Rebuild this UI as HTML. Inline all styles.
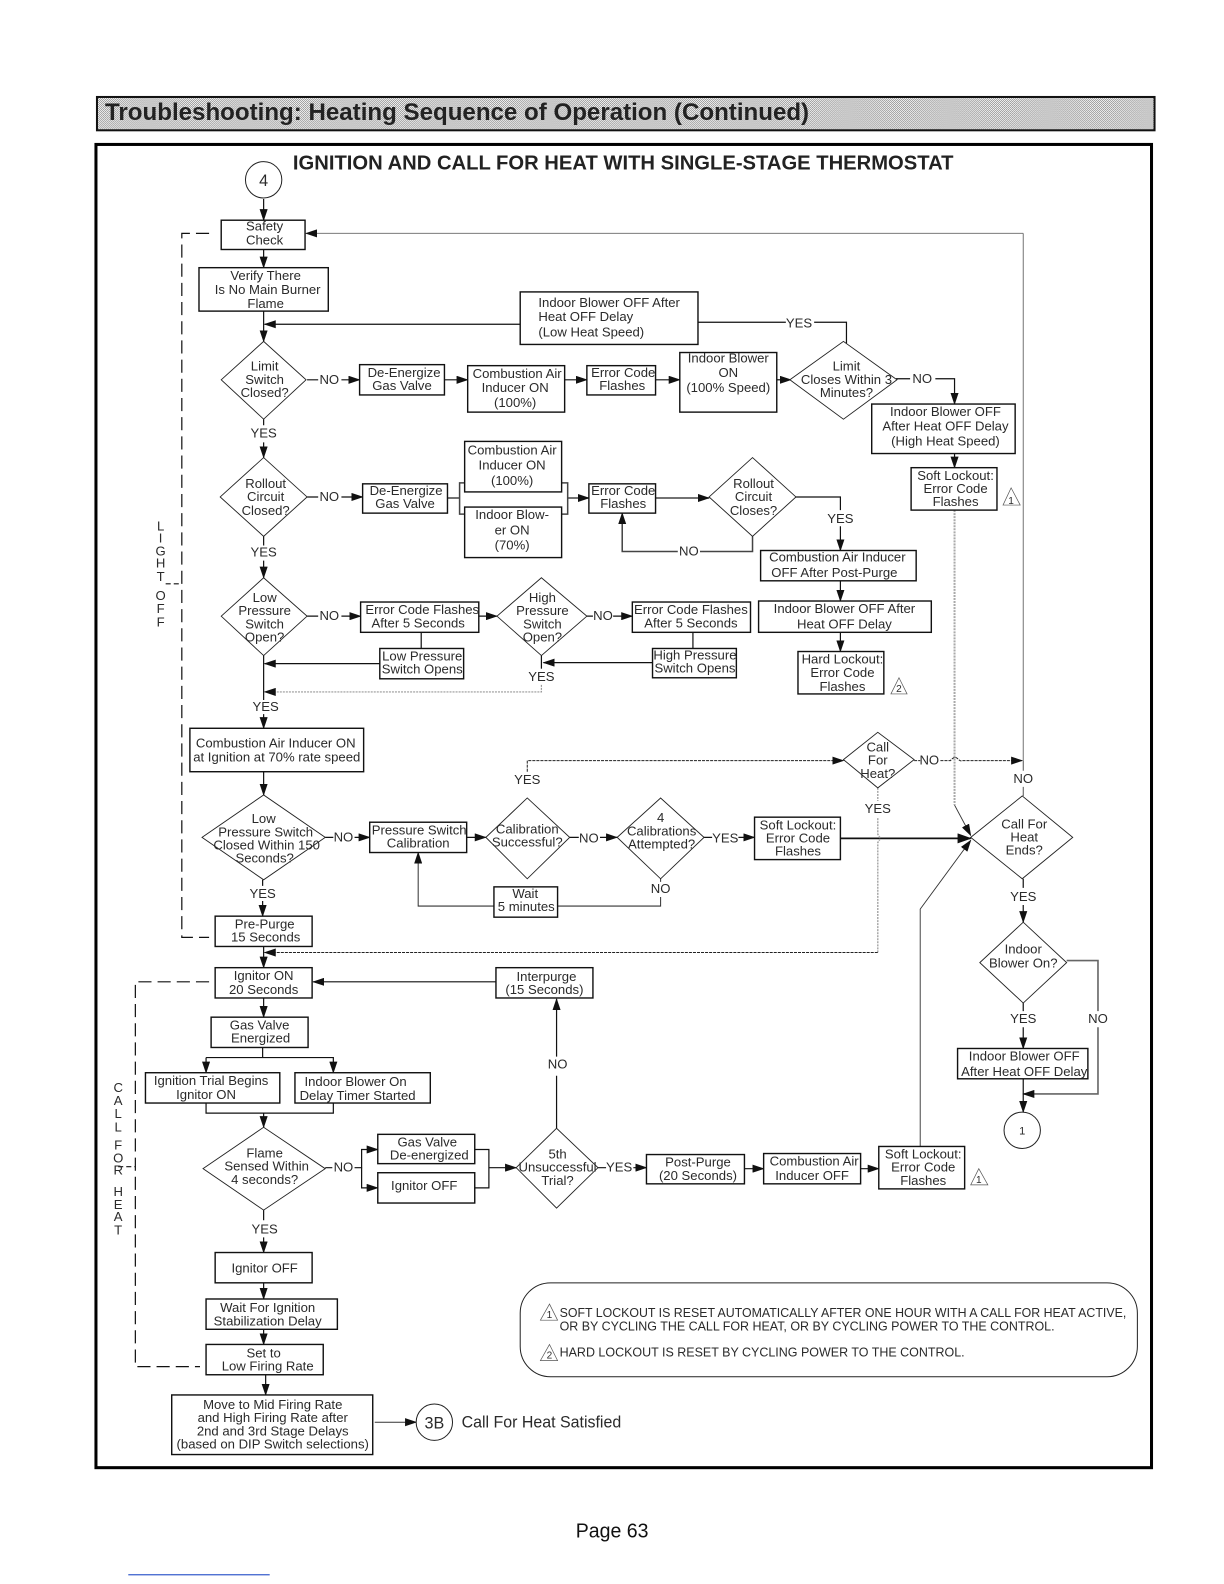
<!DOCTYPE html>
<html><head><meta charset="utf-8"><title>Troubleshooting: Heating Sequence of Operation</title>
<style>
html,body{margin:0;padding:0;background:#fff}
svg{display:block}
text{font-family:"Liberation Sans",sans-serif;font-size:13px;fill:#2a2a2a;text-anchor:middle}
.b rect{fill:#fff;stroke:#111;stroke-width:1.4}
.d polygon{fill:#fff;stroke:#222;stroke-width:.9}
.l path{fill:none;stroke:#111;stroke-width:1.2}
.t{stroke:#111;stroke-width:1.7;fill:none}
.g{fill:none;stroke:#999;stroke-width:1.2;stroke-dasharray:2 1}
.gw{fill:none;stroke:#aaa;stroke-width:2;stroke-dasharray:2 1}
.k{fill:none;stroke:#222;stroke-width:1;stroke-dasharray:3 1}
.dash{fill:none;stroke:#111;stroke-width:1.2;stroke-dasharray:13 6}
.s{text-anchor:start}
</style></head><body>
<svg width="1224" height="1584" viewBox="0 0 1224 1584" xmlns="http://www.w3.org/2000/svg">
<defs>
<pattern id="dith" width="2" height="2" patternUnits="userSpaceOnUse"><rect width="2" height="2" fill="#fff"/><rect width="1" height="1" fill="#909090"/><rect x="1" y="1" width="1" height="1" fill="#909090"/></pattern>
<marker id="a" markerWidth="12" markerHeight="8" refX="11" refY="4" orient="auto" markerUnits="userSpaceOnUse"><path d="M0 0L12 4L0 8z" fill="#111"/></marker>
<marker id="a2" markerWidth="14" markerHeight="10" refX="13" refY="5" orient="auto" markerUnits="userSpaceOnUse"><path d="M0 0L14 5L0 10z" fill="#111"/></marker>
</defs>
<g transform="scale(1.0101)">
<rect x="96" y="96" width="1047" height="33" fill="url(#dith)" stroke="#111" stroke-width="2"/>
<text class="s" x="104" y="119" style="font-size:24px;font-weight:bold;fill:#222" textLength="697" lengthAdjust="spacingAndGlyphs">Troubleshooting: Heating Sequence of Operation (Continued)</text>
<rect x="95" y="143" width="1045" height="1310" fill="#fff" stroke="#000" stroke-width="3"/>
<text class="s" x="290" y="168" style="font-size:20px;font-weight:bold;fill:#222" textLength="654" lengthAdjust="spacingAndGlyphs">IGNITION AND CALL FOR HEAT WITH SINGLE-STAGE THERMOSTAT</text>

<!-- connectors -->
<g class="l">
<path d="M261 197V218" marker-end="url(#a)"/>
<path d="M261 247V265" marker-end="url(#a)"/>
<path d="M261 308V338" marker-end="url(#a)"/>
<path d="M515 321H262" marker-end="url(#a)"/>
<path d="M691 319H778M806 319H838V340"/>
<path d="M304 376H315M338 376H356" marker-end="url(#a)"/>
<path d="M440 376H463" marker-end="url(#a)"/>
<path d="M559 376H581" marker-end="url(#a)"/>
<path d="M649 376H673" marker-end="url(#a)"/>
<path d="M769 376H783" marker-end="url(#a)"/>
<path d="M887 375H901M926 375H945V400" marker-end="url(#a)"/>
<path d="M945 449V463" marker-end="url(#a)"/>
<path d="M261 415V421M261 438V453" marker-end="url(#a)"/>
<path d="M304 492H315M338 492H359" marker-end="url(#a)"/>
<path d="M443 493H455M460 478H455V509H460M556 478H562V509H556M562 493H583" marker-end="url(#a)" style="stroke:#444;stroke-width:1.5"/>
<path d="M649 493H702" marker-end="url(#a)" style="stroke:#444;stroke-width:1.5"/>
<path d="M787 492H832V505M832 521V545" marker-end="url(#a)"/>
<path d="M745 531V546H693M671 546H616V508" marker-end="url(#a)" style="stroke:#444;stroke-width:1.5"/>
<path d="M832 575V595" marker-end="url(#a)"/>
<path d="M832 626V645" marker-end="url(#a)"/>
<path d="M261 531V540M261 555V572" marker-end="url(#a)"/>
<path d="M304 610H315M338 610H357" marker-end="url(#a)"/>
<path d="M474 610H492" marker-end="url(#a)"/>
<path d="M581 610H587M607 610H626" marker-end="url(#a)"/>
<path d="M417 626V642M686 626V642"/>
<path d="M376 657H262" marker-end="url(#a)"/>
<path d="M646 656H538" marker-end="url(#a)"/>
<path d="M261 649V693M261 707V721" marker-end="url(#a)"/>
<path d="M536 649V662"/>
<path d="M261 764V787" marker-end="url(#a)"/>
<path d="M322 829H330M351 829H366" marker-end="url(#a)"/>
<path d="M462 829H481" marker-end="url(#a)"/>
<path d="M564 829H573M594 829H611" marker-end="url(#a)"/>
<path d="M697 829H705M731 829H747" marker-end="url(#a)"/>
<path d="M654 870V873M654 888V897H552M489 897H414V844" marker-end="url(#a)" style="stroke:#333;stroke-width:1"/>
<path d="M260 871V877M260 892V907" marker-end="url(#a)"/>
<path d="M261 937V958" marker-end="url(#a)"/>
<path d="M491 972H310" marker-end="url(#a)"/>
<path d="M261 988V1007" marker-end="url(#a)"/>
<path d="M260 1037V1047"/>
<path d="M204 1047H330V1062" marker-end="url(#a)"/>
<path d="M204 1047V1062" marker-end="url(#a)"/>
<path d="M204 1092V1102H330V1092M261 1102V1116" marker-end="url(#a)"/>
<path d="M322 1156H329M351 1156H358V1138H374" marker-end="url(#a)"/>
<path d="M358 1156V1176H374" marker-end="url(#a)"/>
<path d="M470 1138H484V1176H470M484 1156H511" marker-end="url(#a)"/>
<path d="M551 1117V1065M551 1046V989" marker-end="url(#a)"/>
<path d="M592 1156H600M627 1156H640" marker-end="url(#a)"/>
<path d="M737 1157H756" marker-end="url(#a)"/>
<path d="M852 1157H870" marker-end="url(#a)"/>
<path d="M911 1135V900L961 832" style="stroke:#333;stroke-width:.9" marker-end="url(#a)"/>
<path d="M261 1198V1208M261 1225V1240" marker-end="url(#a)"/>
<path d="M261 1270V1286" marker-end="url(#a)"/>
<path d="M261 1316V1331" marker-end="url(#a)"/>
<path d="M263 1361V1381" marker-end="url(#a)"/>
<path d="M371 1408H412" marker-end="url(#a)" style="stroke:#333;stroke-width:1"/>
<path d="M1013 870V879M1013 896V913" marker-end="url(#a)"/>
<path d="M1056 951H1087V1001M1087 1017V1083H1013" marker-end="url(#a)" style="stroke:#666;stroke-width:1.6"/>
<path d="M1013 993V1001M1013 1017V1038" marker-end="url(#a)"/>
<path d="M1013 1068V1101" marker-end="url(#a)"/>
<path d="M1013 231H303" style="stroke:#666;stroke-width:.9" marker-end="url(#a)"/>
<path d="M1013 231V753" style="stroke:#666;stroke-width:.9"/>
<path d="M1013 753V763M1013 779V788" style="stroke:#444;stroke-width:.9"/>
</g>
<path class="t" d="M832 830H961" marker-end="url(#a2)"/>
<path class="gw" d="M945 505V797"/>
<path d="M945 797L961 827" fill="none" stroke="#333" stroke-width=".9" marker-end="url(#a)"/>
<path class="g" d="M536 678V685H262" marker-end="url(#a)"/>
<path class="k" d="M522 764V753H835" marker-end="url(#a)"/>
<path class="k" d="M905 753H911M931 753H941Q945 748 948 751T952 753H1012" marker-end="url(#a)"/>
<path class="gw" d="M869 780V793M869 810V826Q873 830 869 834V943" style="stroke-width:1.5"/>
<path class="k" d="M869 943H262" marker-end="url(#a)"/>
<path class="dash" d="M207 231H180V928H207"/>
<path class="dash" d="M207 972H134V1353H198"/>
<path d="M164 578H180M117 1155H134" fill="none" stroke="#111" stroke-width="1.1" stroke-dasharray="5 3"/>

<!-- diamonds -->
<g class="d">
<polygon points="219,376 261,338 303,376 261,415"/>
<polygon points="782,376 835,338 888,376 835,415"/>
<polygon points="218,492 261,453 304,492 261,531"/>
<polygon points="702,492 745,453 788,492 745,531"/>
<polygon points="219,610 261,572 304,610 261,649"/>
<polygon points="492,610 536,572 581,610 536,649"/>
<polygon points="835,752 869,725 905,752 869,780"/>
<polygon points="200,829 261,787 322,829 261,871"/>
<polygon points="481,829 522,790 564,829 522,870"/>
<polygon points="611,829 654,790 697,829 654,870"/>
<polygon points="961,829 1012,788 1062,829 1012,870"/>
<polygon points="970,953 1013,913 1056,953 1013,993"/>
<polygon points="201,1157 261,1116 322,1157 261,1198"/>
<polygon points="511,1156 551,1117 592,1156 551,1196"/>
</g>
<!-- boxes -->
<g class="b">
<rect x="219" y="218" width="83" height="29"/>
<rect x="197" y="265" width="128" height="43"/>
<rect x="515" y="289" width="176" height="52"/>
<rect x="356" y="361" width="84" height="30"/>
<rect x="463" y="362" width="96" height="46"/>
<rect x="581" y="362" width="68" height="29"/>
<rect x="673" y="349" width="96" height="59"/>
<rect x="863" y="400" width="142" height="49"/>
<rect x="902" y="463" width="85" height="42"/>
<rect x="359" y="479" width="84" height="29"/>
<rect x="460" y="437" width="96" height="50"/>
<rect x="460" y="502" width="96" height="50"/>
<rect x="583" y="479" width="66" height="29"/>
<rect x="753" y="545" width="154" height="30"/>
<rect x="751" y="595" width="171" height="31"/>
<rect x="790" y="645" width="85" height="42"/>
<rect x="357" y="596" width="117" height="30"/>
<rect x="376" y="642" width="83" height="30"/>
<rect x="626" y="596" width="117" height="30"/>
<rect x="646" y="642" width="83" height="29"/>
<rect x="188" y="721" width="172" height="43"/>
<rect x="366" y="814" width="96" height="30"/>
<rect x="747" y="809" width="85" height="42"/>
<rect x="489" y="878" width="63" height="30"/>
<rect x="213" y="907" width="96" height="30"/>
<rect x="213" y="958" width="96" height="30"/>
<rect x="491" y="958" width="96" height="30"/>
<rect x="209" y="1007" width="96" height="30"/>
<rect x="144" y="1062" width="133" height="30"/>
<rect x="292" y="1062" width="134" height="30"/>
<rect x="374" y="1123" width="96" height="29"/>
<rect x="374" y="1161" width="96" height="30"/>
<rect x="640" y="1143" width="97" height="29"/>
<rect x="756" y="1142" width="96" height="30"/>
<rect x="870" y="1135" width="85" height="42"/>
<rect x="213" y="1240" width="96" height="30"/>
<rect x="204" y="1286" width="130" height="30"/>
<rect x="204" y="1331" width="116" height="30"/>
<rect x="170" y="1381" width="199" height="59"/>
<rect x="948" y="1038" width="129" height="30"/>
</g>
<circle cx="261" cy="178" r="18" fill="#fff" stroke="#222"/>
<circle cx="430" cy="1408" r="18" fill="#fff" stroke="#222"/>
<circle cx="1012" cy="1119" r="18" fill="#fff" stroke="#222"/>
<rect x="515" y="1270" width="611" height="93" rx="30" fill="#fff" stroke="#222"/>
<g fill="#fff" stroke="#555" stroke-width=".7">
<polygon points="1001,483 993,500 1010,500"/>
<polygon points="890,671 882,687 898,687"/>
<polygon points="969,1157 961,1173 978,1173"/>
<polygon points="544,1291 535,1307 552,1307"/>
<polygon points="544,1331 535,1347 552,1347"/>
</g>

<!-- text -->
<text x="261" y="184" style="font-size:16px">4</text>
<text x="262" y="228">Safety</text><text x="262" y="242">Check</text>
<text x="263" y="277">Verify There</text><text x="265" y="291">Is No Main Burner</text><text x="263" y="305">Flame</text>
<text class="s" x="533" y="304">Indoor Blower OFF After</text><text class="s" x="533" y="318">Heat OFF Delay</text><text class="s" x="533" y="333">(Low Heat Speed)</text>
<text x="791" y="324">YES</text>
<text x="262" y="367">Limit</text><text x="262" y="380">Switch</text><text x="262" y="393">Closed?</text>
<text x="326" y="380">NO</text>
<text x="400" y="373">De-Energize</text><text x="398" y="386">Gas Valve</text>
<text x="512" y="374">Combustion Air</text><text x="510" y="388">Inducer ON</text><text x="510" y="403">(100%)</text>
<text x="617" y="373">Error Code</text><text x="616" y="386">Flashes</text>
<text x="721" y="359">Indoor Blower</text><text x="721" y="373">ON</text><text x="721" y="388">(100% Speed)</text>
<text x="838" y="367">Limit</text><text x="838" y="380">Closes Within 3</text><text x="838" y="393">Minutes?</text>
<text x="913" y="379">NO</text>
<text x="936" y="412">Indoor Blower OFF</text><text x="936" y="426">After Heat OFF Delay</text><text x="936" y="441">(High Heat Speed)</text>
<text x="946" y="475">Soft Lockout:</text><text x="946" y="488">Error Code</text><text x="946" y="501">Flashes</text>
<text x="1001" y="499" style="font-size:10px">1</text>
<text x="261" y="433">YES</text>
<text x="263" y="483">Rollout</text><text x="263" y="496">Circuit</text><text x="263" y="510">Closed?</text>
<text x="326" y="496">NO</text>
<text x="402" y="490">De-Energize</text><text x="401" y="503">Gas Valve</text>
<text x="507" y="450">Combustion Air</text><text x="507" y="465">Inducer ON</text><text x="507" y="480">(100%)</text>
<text x="507" y="514">Indoor Blow-</text><text x="507" y="529">er ON</text><text x="507" y="544">(70%)</text>
<text x="617" y="490">Error Code</text><text x="617" y="503">Flashes</text>
<text x="746" y="483">Rollout</text><text x="746" y="496">Circuit</text><text x="746" y="510">Closes?</text>
<text x="832" y="518">YES</text>
<text x="682" y="550">NO</text>
<text x="829" y="556">Combustion Air Inducer</text><text x="826" y="571">OFF After Post-Purge</text>
<text x="836" y="607">Indoor Blower OFF After</text><text x="836" y="622">Heat OFF Delay</text>
<text x="834" y="657">Hard Lockout:</text><text x="834" y="670">Error Code</text><text x="834" y="684">Flashes</text>
<text x="890" y="685" style="font-size:10px">2</text>
<text x="261" y="551">YES</text>
<text x="262" y="596">Low</text><text x="262" y="609">Pressure</text><text x="262" y="622">Switch</text><text x="262" y="635">Open?</text>
<text x="326" y="614">NO</text>
<text x="418" y="608">Error Code Flashes</text><text x="414" y="621">After 5 Seconds</text>
<text x="537" y="596">High</text><text x="537" y="609">Pressure</text><text x="537" y="622">Switch</text><text x="537" y="635">Open?</text>
<text x="597" y="614">NO</text>
<text x="684" y="608">Error Code Flashes</text><text x="684" y="621">After 5 Seconds</text>
<text x="418" y="654">Low Pressure</text><text x="418" y="667">Switch Opens</text>
<text x="688" y="653">High Pressure</text><text x="688" y="666">Switch Opens</text>
<text x="536" y="674">YES</text>
<text x="263" y="704">YES</text>
<text x="273" y="740">Combustion Air Inducer ON</text><text x="274" y="754">at Ignition at 70% rate speed</text>
<text x="522" y="776">YES</text>
<text x="869" y="744">Call</text><text x="869" y="757">For</text><text x="869" y="770">Heat?</text>
<text x="920" y="757">NO</text>
<text x="1013" y="775">NO</text>
<text x="869" y="805">YES</text>
<text x="261" y="815">Low</text><text x="263" y="828">Pressure Switch</text><text x="264" y="841">Closed Within 150</text><text x="262" y="854">Seconds?</text>
<text x="340" y="833">NO</text>
<text x="415" y="826">Pressure Switch</text><text x="414" y="839">Calibration</text>
<text x="522" y="825">Calibration</text><text x="522" y="838">Successful?</text>
<text x="583" y="834">NO</text>
<text x="654" y="814">4</text><text x="655" y="827">Calibrations</text><text x="655" y="840">Attempted?</text>
<text x="718" y="834">YES</text>
<text x="790" y="821">Soft Lockout:</text><text x="790" y="834">Error Code</text><text x="790" y="847">Flashes</text>
<text x="1014" y="820">Call For</text><text x="1014" y="833">Heat</text><text x="1014" y="846">Ends?</text>
<text x="654" y="884">NO</text>
<text x="520" y="889">Wait</text><text x="521" y="902">5 minutes</text>
<text x="260" y="889">YES</text>
<text x="262" y="919">Pre-Purge</text><text x="263" y="932">15 Seconds</text>
<text x="1013" y="892">YES</text>
<text x="1013" y="944">Indoor</text><text x="1013" y="958">Blower On?</text>
<text x="261" y="970">Ignitor ON</text><text x="261" y="984">20 Seconds</text>
<text x="541" y="971">Interpurge</text><text x="539" y="984">(15 Seconds)</text>
<text x="257" y="1019">Gas Valve</text><text x="258" y="1032">Energized</text>
<text x="1013" y="1013">YES</text><text x="1087" y="1013">NO</text>
<text x="552" y="1058">NO</text>
<text x="209" y="1074">Ignition Trial Begins</text><text x="204" y="1088">Ignitor ON</text>
<text x="352" y="1075">Indoor Blower On</text><text x="354" y="1089">Delay Timer Started</text>
<text x="1014" y="1050">Indoor Blower OFF</text><text x="1014" y="1065">After Heat OFF Delay</text>
<text x="1012" y="1123" style="font-size:11px">1</text>
<text x="262" y="1146">Flame</text><text x="264" y="1159">Sensed Within</text><text x="262" y="1172">4 seconds?</text>
<text x="340" y="1160">NO</text>
<text x="423" y="1135">Gas Valve</text><text x="425" y="1148">De-energized</text>
<text x="420" y="1178">Ignitor OFF</text>
<text x="552" y="1147">5th</text><text x="552" y="1160">Unsuccessful</text><text x="552" y="1173">Trial?</text>
<text x="613" y="1160">YES</text>
<text x="691" y="1155">Post-Purge</text><text x="691" y="1168">(20 Seconds)</text>
<text x="806" y="1154">Combustion Air</text><text x="804" y="1168">Inducer OFF</text>
<text x="914" y="1147">Soft Lockout:</text><text x="914" y="1160">Error Code</text><text x="914" y="1173">Flashes</text>
<text x="969" y="1171" style="font-size:10px">1</text>
<text x="262" y="1221">YES</text>
<text x="262" y="1260">Ignitor OFF</text>
<text x="265" y="1299">Wait For Ignition</text><text x="265" y="1312">Stabilization Delay</text>
<text x="261" y="1344">Set to</text><text x="265" y="1357">Low Firing Rate</text>
<text x="270" y="1395">Move to Mid Firing Rate</text><text x="270" y="1408">and High Firing Rate after</text><text x="270" y="1421">2nd and 3rd Stage Delays</text><text x="270" y="1434">(based on DIP Switch selections)</text>
<text x="430" y="1414" style="font-size:16px">3B</text>
<text class="s" x="457" y="1413" style="font-size:16px" textLength="158" lengthAdjust="spacingAndGlyphs">Call For Heat Satisfied</text>
<text x="544" y="1305" style="font-size:10px">1</text>
<text x="544" y="1345" style="font-size:10px">2</text>
<text class="s" x="554" y="1304" style="font-size:12.5px" textLength="561" lengthAdjust="spacingAndGlyphs">SOFT LOCKOUT IS RESET AUTOMATICALLY AFTER ONE HOUR WITH A CALL FOR HEAT ACTIVE,</text>
<text class="s" x="554" y="1317" style="font-size:12.5px" textLength="490" lengthAdjust="spacingAndGlyphs">OR BY CYCLING THE CALL FOR HEAT, OR BY CYCLING POWER TO THE CONTROL.</text>
<text class="s" x="554" y="1343" style="font-size:12.5px" textLength="401" lengthAdjust="spacingAndGlyphs">HARD LOCKOUT IS RESET BY CYCLING POWER TO THE CONTROL.</text>
<!-- side letters -->
<g>
<text x="159" y="525">L</text><text x="159" y="537">I</text><text x="159" y="550">G</text><text x="159" y="562">H</text><text x="159" y="575">T</text><text x="159" y="594">O</text><text x="159" y="607">F</text><text x="159" y="620">F</text>
<text x="117" y="1081">C</text><text x="117" y="1094">A</text><text x="117" y="1107">L</text><text x="117" y="1120">L</text><text x="117" y="1138">F</text><text x="117" y="1151">O</text><text x="117" y="1163">R</text><text x="117" y="1184">H</text><text x="117" y="1197">E</text><text x="117" y="1209">A</text><text x="117" y="1222">T</text>
</g>
<text class="s" x="570" y="1522" style="font-size:20px;fill:#111" textLength="72" lengthAdjust="spacingAndGlyphs">Page 63</text>
<path d="M127 1559H267" stroke="#3a5fcd" stroke-width="1.2" fill="none"/>
</g>
</svg>
</body></html>
